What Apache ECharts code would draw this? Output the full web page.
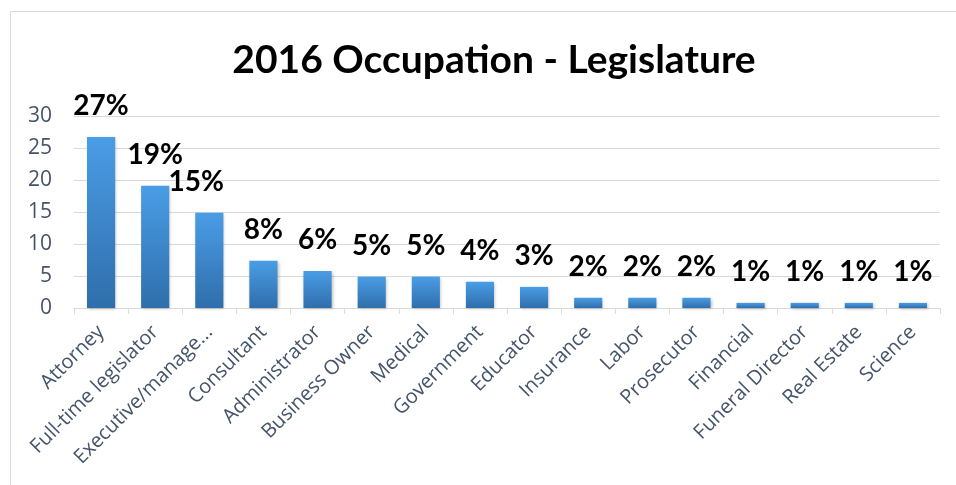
<!DOCTYPE html>
<html>
<head>
<meta charset="utf-8">
<script src="https://cdn.jsdelivr.net/npm/echarts@6/dist/echarts.min.js"></script>
<style>
  html, body { margin: 0; padding: 0; background: #fff; }
  #chart { width: 956px; height: 485px; }
</style>
</head>
<body>
<div id="chart"></div>
<script>
var categories = ['Attorney', 'Full-time legislator', 'Executive/management', 'Consultant',
    'Administrator', 'Business Owner', 'Medical', 'Government', 'Educator', 'Insurance',
    'Labor', 'Prosecutor', 'Financial', 'Funeral Director', 'Real Estate', 'Science'];
var values = [26.7, 19.1, 14.9, 7.4, 5.8, 4.9, 4.9, 4.1, 3.3, 1.6, 1.6, 1.6, 0.8, 0.8, 0.8, 0.8];
var pctLabels = ['27%', '19%', '15%', '8%', '6%', '5%', '5%', '4%', '3%', '2%', '2%', '2%', '1%', '1%', '1%', '1%'];
var yTicks = [0, 5, 10, 15, 20, 25, 30];

var font = 'Lato, "Noto Sans", sans-serif';
var labelFont = '"Open Sans", "Noto Sans", sans-serif';
var axisGray = '#d9d9d9';
var textBlue = '#44546a';

var chart = echarts.init(document.getElementById('chart'));

var barData = values.map(function(v, i){
    var item = { value: v };
    // Excel nudged this label left to avoid the neighbour
    if(i === 2){
        item.label = { offset: [-13, 0] };
    }
    return item;
});

chart.setOption({
    backgroundColor: '#fff',
    animation: false,
    graphic: [{
        type: 'rect',
        shape: { x: 10.5, y: 11.5, width: 1000, height: 500 },
        style: { fill: 'none', stroke: '#d9d9d9', lineWidth: 1 }
    }],
    title: {
        text: '2016 Occupation - Legislature',
        left: 489,
        textAlign: 'center',
        top: 36,
        textStyle: { fontFamily: font, fontWeight: 'bold', fontSize: 39, color: '#000' }
    },
    grid: { left: 74, right: 16, top: 116, bottom: 177, containLabel: false },
    xAxis: {
        type: 'category',
        data: categories,
        axisLine: { lineStyle: { color: axisGray, width: 1 } },
        axisTick: { show: true, length: 6, lineStyle: { color: axisGray } },
        axisLabel: {
            rotate: 45,
            margin: 21,
            interval: 0,
            fontFamily: labelFont,
            fontSize: 20,
            color: textBlue,
            width: 198,
            overflow: 'truncate',
            ellipsis: '...'
        }
    },
    yAxis: {
        type: 'value',
        min: yTicks[0],
        max: yTicks[yTicks.length - 1],
        interval: 5,
        axisLine: { show: false },
        axisTick: { show: false },
        axisLabel: { margin: 22, fontFamily: labelFont, fontSize: 21, color: textBlue },
        splitLine: { lineStyle: { color: axisGray, width: 1 } }
    },
    series: [{
        type: 'bar',
        data: barData,
        barCategoryGap: '48%',
        itemStyle: {
            color: new echarts.graphic.LinearGradient(0, 0, 0, 1, [
                { offset: 0, color: '#4a9de6' },
                { offset: 1, color: '#2f6eab' }
            ]),
            shadowColor: 'rgba(0,0,0,0.25)',
            shadowBlur: 3,
            shadowOffsetX: 1,
            shadowOffsetY: 1
        },
        label: {
            show: true,
            position: 'top',
            distance: 17,
            fontFamily: font,
            fontWeight: 'bold',
            fontSize: 28,
            color: '#000',
            formatter: function(p){
                return pctLabels[p.dataIndex];
            }
        }
    }]
});
</script>
</body>
</html>
